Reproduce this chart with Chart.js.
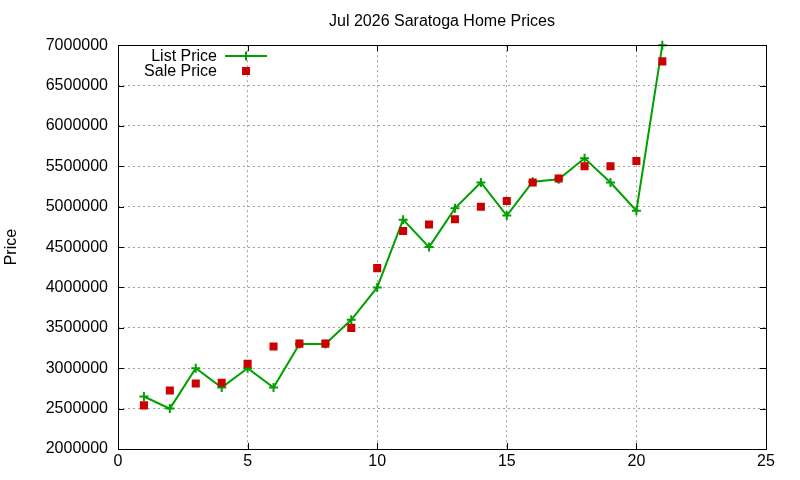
<!DOCTYPE html>
<html>
<head>
<meta charset="utf-8">
<script src="https://cdn.jsdelivr.net/npm/chart.js@4/dist/chart.umd.min.js"></script>
<style>
  html, body { margin: 0; padding: 0; background: #fff; }
  #wrap { width: 800px; height: 480px; }
</style>
</head>
<body>
<div id="wrap"><canvas id="price-chart"></canvas></div>
<script>
const months = [1, 2, 3, 4, 5, 6, 7, 8, 9, 10, 11, 12, 13, 14, 15, 16, 17, 18, 19, 20, 21]
const listPrice = [2650000, 2500000, 3000000, 2760000, 3000000, 2760000, 3300000, 3300000, 3600000, 4000000,
  4840000, 4500000, 4980000, 5300000, 4890000, 5310000, 5340000, 5600000, 5300000, 4950000, 7000000]
const salePrice = [2540000, 2725000, 2810000, 2820000, 3055000, 3270000, 3305000, 3305000, 3500000, 4240000,
  4700000, 4780000, 4845000, 5000000, 5070000, 5300000, 5350000, 5500000, 5500000, 5565000, 6800000]
const xTicks = [0, 5, 10, 15, 20, 25]

const green = 'rgb(0,160,0)'
const red = 'rgb(204,0,0)'
const font = { family: '"Liberation Sans", Arial, sans-serif', size: 16 }

Chart.defaults.font.family = font.family
Chart.defaults.font.size = 16
Chart.defaults.color = '#000'

// gnuplot style frame: black box with inward ticks on all sides
const framePlugin = {
  id: 'frame',
  afterDraw(chart) {
    const { ctx, chartArea: a, scales } = chart
    const len = 6
    ctx.save()
    ctx.strokeStyle = '#000'
    ctx.lineWidth = 1
    ctx.beginPath()
    scales.x.ticks.forEach(t => {
      const px = Math.round(scales.x.getPixelForValue(t.value)) + 0.5
      ctx.moveTo(px, a.bottom); ctx.lineTo(px, a.bottom - len)
      ctx.moveTo(px, a.top); ctx.lineTo(px, a.top + len)
    })
    scales.y.ticks.forEach(t => {
      const py = Math.round(scales.y.getPixelForValue(t.value)) + 0.5
      ctx.moveTo(a.left, py); ctx.lineTo(a.left + len, py)
      ctx.moveTo(a.right, py); ctx.lineTo(a.right - len, py)
    })
    ctx.stroke()
    ctx.strokeRect(Math.round(a.left) + 0.5, Math.round(a.top) + 0.5,
      Math.round(a.right - a.left), Math.round(a.bottom - a.top))
    ctx.restore()
  }
}

// key in the top left corner, text right aligned, sample to the right
const keyPlugin = {
  id: 'key',
  afterDraw(chart) {
    const { ctx } = chart
    const textRight = 217
    const sampleX = 246
    const rows = [56, 71]
    ctx.save()
    ctx.font = '16px ' + font.family
    ctx.fillStyle = '#000'
    ctx.textAlign = 'right'
    ctx.textBaseline = 'middle'
    chart.data.datasets.forEach((ds, i) => {
      ctx.fillText(ds.label, textRight, rows[i] + 1)
    })
    // list price sample
    ctx.strokeStyle = green
    ctx.lineWidth = 2
    ctx.beginPath()
    ctx.moveTo(sampleX - 21, rows[0]); ctx.lineTo(sampleX + 21, rows[0])
    ctx.moveTo(sampleX, rows[0] - 4.5); ctx.lineTo(sampleX, rows[0] + 4.5)
    ctx.stroke()
    // sale price sample
    ctx.fillStyle = red
    ctx.fillRect(sampleX - 4, rows[1] - 4, 8, 8)
    ctx.restore()
  }
}

const ctx = document.getElementById('price-chart')

const priceChart = new Chart(ctx, {
  type: 'line',
  data: {
    datasets: [
      {
        label: 'List Price',
        data: months.map((m, i) => ({ x: m, y: listPrice[i] })),
        borderColor: green,
        backgroundColor: green,
        borderWidth: 2,
        pointStyle: 'cross',
        pointRadius: 4.5,
        pointBorderWidth: 2,
        pointHoverRadius: 4.5,
        tension: 0,
        clip: 8,
        order: 2
      },
      {
        label: 'Sale Price',
        data: months.map((m, i) => ({ x: m, y: salePrice[i] })),
        showLine: false,
        borderColor: red,
        backgroundColor: red,
        pointStyle: 'rect',
        pointRadius: 5.7,
        pointBorderWidth: 0,
        pointHoverRadius: 5.7,
        order: 1
      }
    ]
  },
  options: {
    responsive: true,
    maintainAspectRatio: false,
    animation: false,
    layout: { padding: { left: 0, right: 34, top: 0, bottom: 0 } },
    scales: {
      x: {
        type: 'linear',
        min: 0,
        max: 25,
        afterBuildTicks(scale) {
          scale.ticks = xTicks.map(v => ({ value: v }))
        },
        afterFit(scale) { scale.height = 31 },
        ticks: { padding: 3, font, maxRotation: 0, callback: v => String(v) },
        grid: { color: '#a0a0a0', lineWidth: 1, drawTicks: false },
        border: { display: false, dash: [2, 3] }
      },
      y: {
        min: 2000000,
        max: 7000000,
        afterFit(scale) { scale.width = 118 },
        ticks: { stepSize: 500000, padding: 10, font, callback: v => String(v) },
        grid: { color: '#a0a0a0', lineWidth: 1, drawTicks: false },
        border: { display: false, dash: [2, 3] },
        title: { display: true, text: 'Price', font, padding: { top: 2, bottom: 0 } }
      }
    },
    plugins: {
      legend: { display: false },
      tooltip: { enabled: false },
      title: {
        display: true,
        text: 'Jul 2026 Saratoga Home Prices',
        font: { family: font.family, size: 16, weight: 'normal' },
        color: '#000',
        fullSize: false,
        padding: { top: 12, bottom: 14 }
      }
    }
  },
  plugins: [framePlugin, keyPlugin]
})
</script>
</body>
</html>
